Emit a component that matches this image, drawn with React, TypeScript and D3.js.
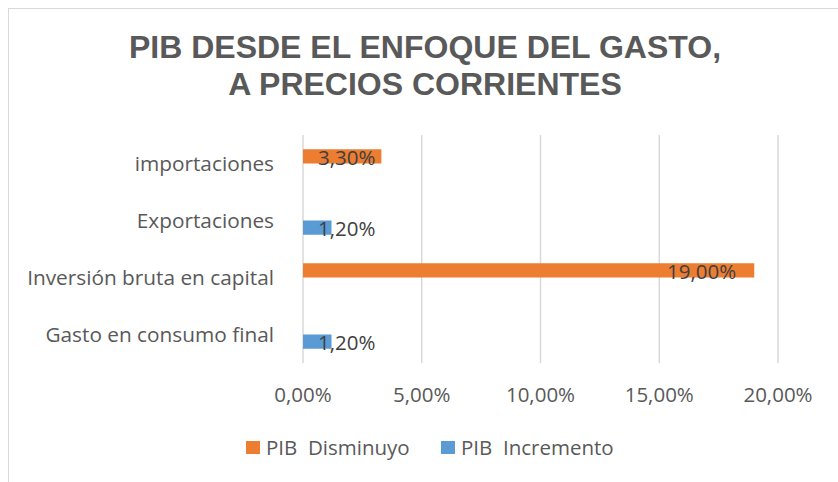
import React from 'react';
import * as d3 from 'd3';

const categories = ['importaciones', 'Exportaciones', 'Inversión bruta en capital', 'Gasto en consumo final'];
const seriesNames = ['PIB  Disminuyo', 'PIB  Incremento'];
const disminuyo = [0.033, 0, 0.19, 0];
const incremento = [0, 0.012, 0, 0.012];
const xTicks = [0, 0.05, 0.1, 0.15, 0.2];
const colors = ['#ED7D31', '#5B9BD5'];

const W = 838;
const H = 482;
const font = '"Open Sans", sans-serif';

const fmt = (v: number) => (v * 100).toFixed(2).replace('.', ',') + '%';

export default function App() {
  const x = d3.scaleLinear().domain([0, 0.2]).range([303, 778]);
  const y = d3.scaleBand().domain(categories).range([135, 363]).paddingInner(0.5).paddingOuter(0.25);
  const inner = d3.scaleBand().domain(seriesNames).range([0, y.bandwidth()]);
  const values = [disminuyo, incremento];

  const bars = [];
  values.forEach((vals, s) => {
    vals.forEach((v, i) => {
      if (!v) return;
      bars.push({ s, v, cat: categories[i] });
    });
  });

  return (
    <svg width={W} height={H} style={{ position: 'absolute', left: 0, top: 0, background: '#fff' }}>
      <rect x={8.5} y={8.5} width={880} height={520} fill="#fff" stroke="#D9D9D9" strokeWidth={1} />
      <text x={425} y={58} textAnchor="middle" fontFamily='"Liberation Sans", Arial, sans-serif' fontWeight="bold" fontSize={32} fill="#595959">
        PIB DESDE EL ENFOQUE DEL GASTO,
      </text>
      <text x={425} y={95} textAnchor="middle" fontFamily='"Liberation Sans", Arial, sans-serif' fontWeight="bold" fontSize={32} fill="#595959">
        A PRECIOS CORRIENTES
      </text>

      {xTicks.map((t) => (
        <g key={t}>
          <line x1={x(t)} x2={x(t)} y1={135} y2={363} stroke="#D9D9D9" strokeWidth={1.5} />
          <text x={x(t)} y={402} textAnchor="middle" fontFamily={font} fontSize={20.5} fill="#595959">
            {fmt(t)}
          </text>
        </g>
      ))}

      {categories.map((c) => (
        <text key={c} x={274} y={y(c)! + y.bandwidth() / 2} dy="0.35em" textAnchor="end" fontFamily={font} fontSize={20.8} fill="#595959">
          {c}
        </text>
      ))}

      {bars.map((b, i) => {
        const y0 = y(b.cat)! + inner(seriesNames[b.s])!;
        const w = x(b.v) - x(0);
        const big = w > 100;
        return (
          <g key={i}>
            <rect x={x(0)} y={y0} width={w} height={inner.bandwidth()} fill={colors[b.s]} />
            <text
              x={big ? x(b.v) - 18 : x(0) + 15}
              y={y0 + inner.bandwidth() / 2 + 1}
              dy="0.35em"
              textAnchor={big ? 'end' : 'start'}
              fontFamily={font}
              fontSize={20.5}
              fill="#404040"
            >
              {fmt(b.v)}
            </text>
          </g>
        );
      })}

      {seriesNames.map((n, s) => {
        const lx = [246, 441][s];
        return (
          <g key={n}>
            <rect x={lx} y={441} width={14} height={13} fill={colors[s]} />
            <text x={lx + 20} y={448} dy="0.35em" fontFamily={font} fontSize={20.5} fill="#595959" style={{ whiteSpace: 'pre' }}>
              {n}
            </text>
          </g>
        );
      })}
    </svg>
  );
}
